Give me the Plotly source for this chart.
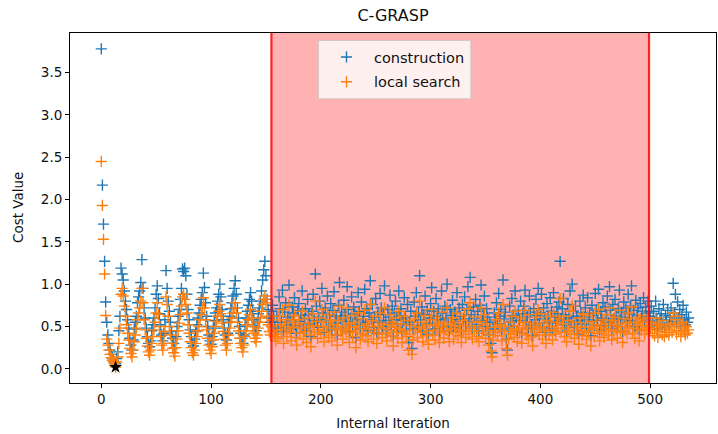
import plotly.graph_objects as go

# ---- data ----
construction = [
    3.78,2.17,1.71,1.27,0.79,0.55,0.40,0.30,0.22,0.17,0.13,0.10,0.08,0.06,0.12,0.20,0.45,0.62,1.19,1.12,
    1.05,0.92,0.80,0.70,0.58,0.48,0.36,0.28,0.22,0.34,0.47,0.55,0.62,0.78,0.85,0.92,1.02,1.29,0.95,0.72,
    0.60,0.48,0.38,0.30,0.26,0.33,0.45,0.52,0.60,0.72,0.88,0.98,0.83,0.65,0.52,0.40,0.33,0.42,0.58,1.16,
    0.95,0.80,0.68,0.55,0.44,0.36,0.30,0.25,0.38,0.50,0.62,0.70,0.82,0.95,1.18,1.15,1.19,1.10,0.88,0.70,
    0.58,0.46,0.38,0.30,0.27,0.35,0.44,0.52,0.60,0.66,0.75,0.82,0.90,1.13,0.96,0.78,0.62,0.50,0.40,0.33,
    0.29,0.38,0.48,0.57,0.66,0.72,0.80,0.88,1.00,0.85,0.70,0.58,0.48,0.40,0.34,0.42,0.55,0.62,0.71,0.78,
    0.86,0.95,1.04,0.88,0.72,0.60,0.50,0.42,0.36,0.30,0.40,0.52,0.60,0.68,0.75,0.82,0.90,0.80,0.68,0.58,
    0.50,0.45,0.55,0.65,0.72,0.80,0.92,1.05,1.17,1.27,1.10,0.82,0.70,0.60,0.55,0.68,0.75,0.62,0.50,0.45,
    0.62,0.48,0.85,0.71,0.55,0.93,0.44,0.67,0.78,0.52,0.61,0.99,0.58,0.47,0.73,0.66,0.84,0.51,0.42,0.69,
    0.77,0.56,0.63,0.92,0.48,0.59,0.71,0.45,0.82,0.64,0.53,0.38,0.68,0.88,0.57,1.12,0.74,0.49,0.61,0.80,
    0.55,0.95,0.66,0.43,0.72,0.58,0.86,0.50,0.64,0.77,0.46,0.69,0.91,0.54,0.62,0.40,0.75,1.02,0.59,0.67,
    0.48,0.81,0.63,0.56,0.97,0.70,0.44,0.60,0.85,0.52,0.73,0.65,0.37,0.58,0.90,0.68,0.47,0.79,0.55,0.62,
    0.94,0.53,0.71,0.45,0.66,1.04,0.58,0.76,0.49,0.61,0.83,0.42,0.67,0.55,0.89,0.72,0.50,0.64,0.98,0.57,
    0.46,0.70,0.61,0.87,0.53,0.74,0.39,0.66,0.80,0.58,0.49,0.92,0.63,0.71,0.44,0.57,0.84,0.60,0.52,0.76,
    0.31,0.55,0.68,0.24,0.47,0.79,0.62,0.90,0.51,0.66,1.10,0.58,0.73,0.45,0.64,0.86,0.53,0.69,0.41,0.60,
    0.77,0.96,0.54,0.68,0.47,0.83,0.62,0.71,0.43,0.58,0.92,0.66,0.50,0.74,0.60,1.00,0.55,0.45,0.70,0.63,
    0.81,0.49,0.67,0.58,0.90,0.53,0.72,0.62,0.44,0.76,0.59,0.85,0.51,0.69,0.97,0.56,1.08,0.64,0.48,0.73,
    0.60,0.82,0.52,0.68,0.45,0.75,0.99,0.57,0.64,0.86,0.50,0.71,0.61,0.40,0.55,0.30,0.19,0.47,0.66,0.58,
    0.78,0.53,0.89,0.62,0.70,0.46,1.05,0.59,0.67,0.35,0.22,0.48,0.74,0.56,0.83,0.63,0.51,0.92,0.60,0.45,
    0.69,0.57,0.80,0.42,0.65,0.74,0.93,0.55,0.61,0.48,0.86,0.67,0.52,0.39,0.71,0.58,0.82,0.63,0.95,0.54,
    0.66,0.88,0.49,0.72,0.59,0.43,0.77,0.62,0.54,0.84,0.68,0.47,0.90,0.61,0.56,0.73,0.65,0.79,1.27,0.58,
    0.71,0.83,0.52,0.64,0.45,0.76,0.60,0.92,0.55,1.00,0.68,0.49,0.74,0.62,0.57,0.41,0.80,0.66,0.53,0.87,
    0.61,0.72,0.48,0.84,0.58,0.66,0.39,0.75,0.63,0.52,0.89,0.70,0.57,0.94,0.46,0.68,0.60,0.78,0.51,0.73,
    0.64,0.86,0.55,0.97,0.69,0.47,0.76,0.59,0.82,0.62,0.50,0.71,0.93,0.58,0.67,0.44,0.79,0.61,0.72,0.55,
    0.88,0.65,0.74,0.98,0.57,0.69,0.50,0.81,0.63,0.72,0.46,0.77,0.60,0.68,0.84,0.55,0.73,0.62,0.80,0.66,
    0.62,0.74,0.55,0.68,0.51,0.80,0.60,0.47,0.71,0.58,0.65,0.53,0.76,0.49,0.63,0.57,0.69,0.52,0.61,0.72,
    0.56,1.01,0.66,0.88,0.54,0.79,0.60,0.70,0.50,0.64,0.75,0.58,0.52,0.67,0.55,0.60,
]

local_search = [
    2.45,1.93,1.53,1.12,0.63,0.35,0.28,0.22,0.17,0.13,0.10,0.08,0.06,0.02,0.08,0.14,0.30,0.48,0.88,0.95,
    0.86,0.74,0.62,0.52,0.42,0.34,0.24,0.18,0.14,0.22,0.32,0.40,0.48,0.58,0.66,0.72,0.80,0.95,0.78,0.58,
    0.46,0.36,0.27,0.20,0.16,0.22,0.30,0.38,0.46,0.55,0.66,0.78,0.64,0.50,0.38,0.28,0.22,0.30,0.44,0.85,
    0.76,0.62,0.50,0.40,0.30,0.24,0.19,0.15,0.25,0.35,0.45,0.54,0.64,0.74,0.85,0.88,0.82,0.76,0.66,0.52,
    0.42,0.32,0.25,0.19,0.16,0.22,0.30,0.38,0.45,0.50,0.58,0.64,0.72,0.84,0.72,0.58,0.46,0.36,0.28,0.22,
    0.18,0.26,0.34,0.42,0.50,0.56,0.62,0.68,0.76,0.65,0.54,0.44,0.35,0.28,0.22,0.30,0.40,0.48,0.55,0.60,
    0.66,0.72,0.78,0.66,0.55,0.45,0.36,0.30,0.25,0.20,0.28,0.38,0.45,0.52,0.58,0.64,0.70,0.60,0.50,0.42,
    0.36,0.32,0.40,0.48,0.55,0.60,0.68,0.76,0.82,0.86,0.78,0.62,0.52,0.44,0.40,0.50,0.58,0.46,0.38,0.33,
    0.45,0.36,0.62,0.52,0.41,0.70,0.30,0.50,0.58,0.38,0.47,0.75,0.43,0.33,0.55,0.49,0.63,0.37,0.28,0.52,
    0.58,0.42,0.48,0.68,0.35,0.44,0.54,0.31,0.60,0.49,0.40,0.26,0.51,0.65,0.43,0.80,0.56,0.36,0.46,0.60,
    0.41,0.70,0.50,0.32,0.55,0.44,0.64,0.37,0.48,0.58,0.33,0.52,0.67,0.40,0.47,0.28,0.57,0.74,0.44,0.50,
    0.35,0.60,0.47,0.42,0.72,0.53,0.31,0.45,0.63,0.38,0.55,0.49,0.25,0.43,0.66,0.51,0.34,0.59,0.41,0.47,
    0.69,0.39,0.53,0.32,0.50,0.76,0.43,0.57,0.35,0.46,0.62,0.30,0.50,0.41,0.66,0.54,0.37,0.48,0.72,0.42,
    0.33,0.52,0.46,0.64,0.39,0.55,0.27,0.49,0.60,0.43,0.36,0.68,0.47,0.53,0.31,0.42,0.62,0.45,0.38,0.57,
    0.22,0.41,0.51,0.17,0.34,0.59,0.46,0.66,0.37,0.49,0.80,0.43,0.55,0.32,0.48,0.63,0.39,0.52,0.29,0.45,
    0.58,0.70,0.40,0.51,0.34,0.61,0.46,0.53,0.31,0.43,0.67,0.49,0.36,0.55,0.45,0.72,0.41,0.32,0.52,0.47,
    0.60,0.35,0.50,0.43,0.66,0.39,0.54,0.46,0.31,0.57,0.44,0.63,0.37,0.51,0.71,0.41,0.78,0.48,0.35,0.55,
    0.45,0.61,0.38,0.51,0.32,0.56,0.72,0.42,0.48,0.64,0.36,0.53,0.45,0.28,0.40,0.21,0.14,0.34,0.49,0.43,
    0.58,0.39,0.66,0.46,0.52,0.33,0.76,0.44,0.50,0.24,0.16,0.35,0.55,0.41,0.62,0.47,0.37,0.68,0.45,0.32,
    0.51,0.42,0.60,0.30,0.48,0.55,0.69,0.40,0.46,0.35,0.64,0.50,0.38,0.27,0.53,0.43,0.61,0.47,0.70,0.40,
    0.49,0.65,0.35,0.54,0.44,0.30,0.57,0.46,0.40,0.62,0.50,0.34,0.67,0.45,0.41,0.55,0.48,0.59,0.83,0.43,
    0.53,0.62,0.38,0.48,0.32,0.57,0.45,0.68,0.41,0.74,0.50,0.36,0.55,0.46,0.42,0.29,0.60,0.49,0.39,0.65,
    0.45,0.54,0.35,0.63,0.43,0.49,0.27,0.56,0.47,0.38,0.66,0.52,0.42,0.70,0.33,0.50,0.44,0.58,0.37,0.54,
    0.47,0.64,0.40,0.72,0.51,0.34,0.57,0.44,0.61,0.46,0.36,0.53,0.69,0.43,0.50,0.31,0.59,0.45,0.54,0.41,
    0.66,0.48,0.55,0.73,0.42,0.51,0.36,0.60,0.47,0.54,0.33,0.58,0.45,0.51,0.63,0.41,0.55,0.46,0.60,0.49,
    0.48,0.55,0.42,0.52,0.39,0.60,0.46,0.37,0.53,0.44,0.50,0.40,0.57,0.38,0.48,0.43,0.52,0.40,0.46,0.54,
    0.43,0.66,0.50,0.62,0.41,0.58,0.45,0.53,0.38,0.48,0.55,0.44,0.40,0.50,0.42,0.46,
]

iterations = list(range(len(construction)))

best_iter = [13]
best_value = [0.02]

span_start = 155
span_end = 499

title_text = "C-GRASP"
x_label = "Internal Iteration"
y_label = "Cost Value"

# ---- figure ----
FONT = "DejaVu Sans, Liberation Sans, sans-serif"
BLUE = "#1f77b4"
ORANGE = "#ff7f0e"

fig = go.Figure()
fig.add_trace(go.Scatter(
    x=iterations, y=construction, mode="markers", name="construction",
    legendgroup="c",
    marker=dict(symbol="cross-thin-open", size=8, color=BLUE,
                line=dict(width=1.4, color=BLUE)),
))
fig.add_trace(go.Scatter(
    x=iterations, y=local_search, mode="markers", name="local search",
    legendgroup="ls",
    marker=dict(symbol="cross-thin-open", size=8, color=ORANGE,
                line=dict(width=1.4, color=ORANGE)),
))
fig.add_trace(go.Scatter(
    x=best_iter, y=best_value, mode="markers", showlegend=False,
    marker=dict(symbol="star", size=10, color="black"),
))

fig.add_shape(type="rect", xref="x", yref="paper", x0=span_start, x1=span_end,
              y0=0, y1=1, fillcolor="rgba(255,0,0,0.3)", line=dict(width=0),
              layer="below")
for xv in (span_start, span_end):
    fig.add_shape(type="line", xref="x", yref="paper", x0=xv, x1=xv, y0=0, y1=1,
                  line=dict(color="rgba(255,0,0,0.85)", width=2.2), layer="above")

axis_common = dict(
    showline=True, linecolor="black", linewidth=1, mirror=True,
    ticks="outside", ticklen=4, tickwidth=1, tickcolor="black",
    showgrid=False, zeroline=False,
    tickfont=dict(family=FONT, size=13.5, color="#111"),
)

fig.update_layout(
    width=718, height=434,
    margin=dict(l=70, r=2, t=33, b=51),
    paper_bgcolor="white", plot_bgcolor="white",
    title=dict(text=title_text, x=(70 + 716) / 2 / 718, xanchor="center",
               y=1 - 15 / 434, yanchor="middle",
               font=dict(family=FONT, size=16, color="#111")),
    xaxis=dict(range=[-28.5, 560], dtick=100, tick0=0,
               title=dict(text=x_label, standoff=12,
                          font=dict(family=FONT, size=13.5, color="#111")),
               **axis_common),
    yaxis=dict(range=[-0.168, 3.968], dtick=0.5, tick0=0, tickformat=".1f",
               **axis_common),
    legend=dict(x=(318 - 70) / 646, xanchor="left", y=0.98, yanchor="top",
                bgcolor="rgba(255,255,255,0.8)", bordercolor="rgba(204,204,204,0.8)",
                borderwidth=1, font=dict(family=FONT, size=14.5, color="#111"),
                traceorder="grouped", tracegroupgap=3, itemwidth=45),
    showlegend=True,
)

fig.add_annotation(text=y_label, xref="paper", yref="paper",
                   x=(18 - 70) / 646, y=0.5, xanchor="center", yanchor="middle",
                   textangle=-90, showarrow=False,
                   font=dict(family=FONT, size=13.5, color="#111"))

fig.write_html("out.html")
